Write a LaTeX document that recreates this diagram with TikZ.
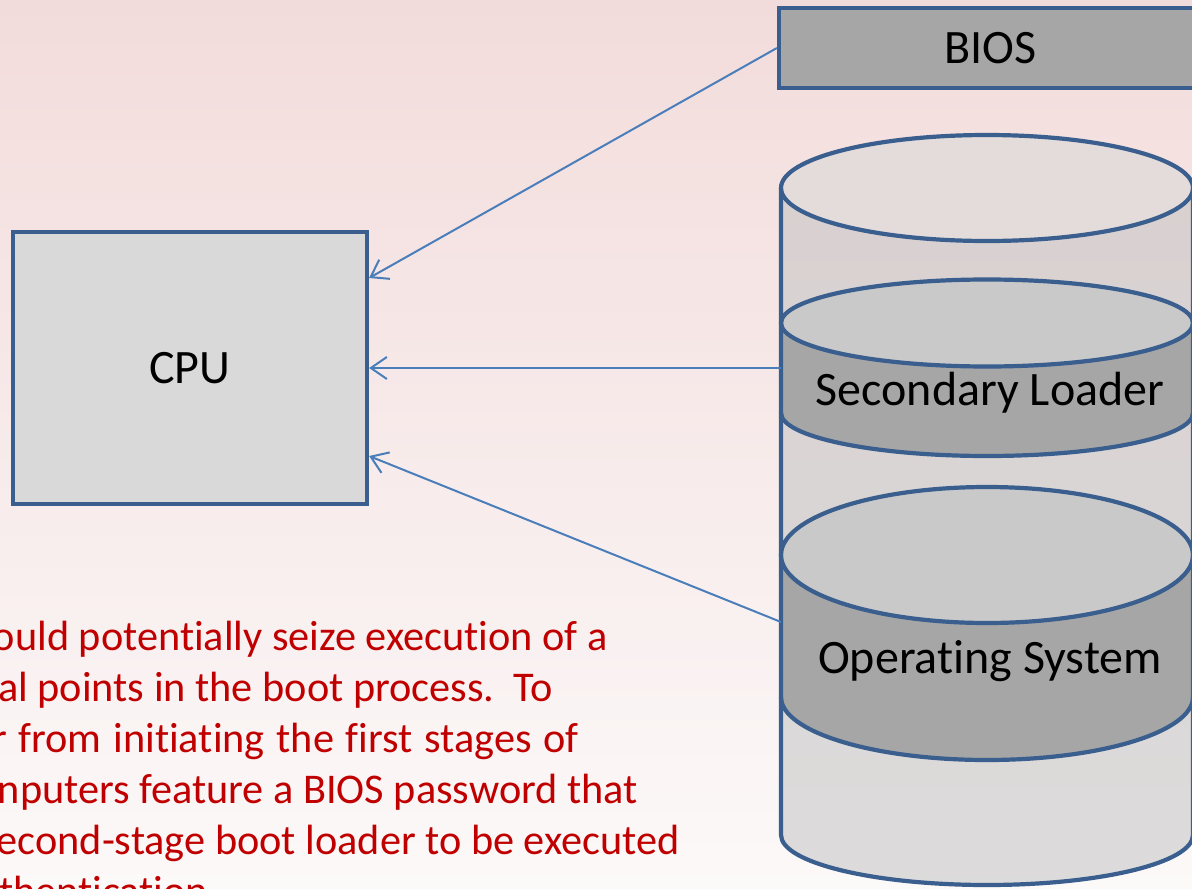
\documentclass[tikz,border=0pt]{standalone}
\usepackage{fontspec}
\setmainfont{Carlito}[Ligatures=NoCommon]
\usetikzlibrary{arrows.meta}
\definecolor{bgtop}{HTML}{F2DCDB}
\definecolor{bgmid}{HTML}{F4E4E4}
\definecolor{bgbot}{HTML}{FCF9F9}
\definecolor{edgeblue}{HTML}{3A5F8E}
\definecolor{boxfill}{HTML}{D9D9D9}
\definecolor{darkfill}{HTML}{A6A6A6}
\definecolor{bandtop}{HTML}{C9C9C9}
\definecolor{cyltop}{HTML}{E4DBDB}
\definecolor{cylbody}{HTML}{C3C3C3}
\definecolor{arrowblue}{HTML}{4A7EBB}
\definecolor{notered}{HTML}{C00000}
\begin{document}
\begin{tikzpicture}[x=1pt,y=-1pt,
  label/.style={font=\fontsize{48}{57}\selectfont, text=black, inner sep=0pt},
  boxnode/.style={draw=edgeblue, line width=4.2pt, fill=boxfill, label},
  outline/.style={draw=edgeblue, line width=4.2pt},
  conn/.style={draw=arrowblue, line width=2pt, -{Straight Barb[length=16pt,width=22pt]}},
  note/.style={font=\fontsize{42.3}{51}\selectfont, text=notered, inner sep=0pt}]
\clip (0,0) rectangle (1192,889);
\shade[top color=bgtop, middle color=bgmid, bottom color=bgbot] (0,0) rectangle (1192,889);

% CPU box
\node[boxnode, minimum width=354pt, minimum height=272pt] (cpu) at (190,368) {CPU};

% BIOS box
\node[boxnode, fill=darkfill, minimum width=423pt, minimum height=80pt] (bios) at (990.5,48) {BIOS};

% Cylinder body
\fill[cylbody, opacity=0.55] (781,188) -- (781,835) arc[start angle=180, end angle=360, x radius=206pt, y radius=50pt] -- (1193,188) -- cycle;
\fill[cyltop] (987,188) ellipse[x radius=206, y radius=53];

% Secondary loader band
\fill[darkfill] (781,323) -- (781,413) arc[start angle=180, end angle=360, x radius=206pt, y radius=43pt] -- (1193,323) -- cycle;
\draw[outline] (781,413) arc[start angle=180, end angle=360, x radius=206pt, y radius=43pt];
\filldraw[outline, fill=bandtop] (987,323) ellipse[x radius=206, y radius=43.5];

% Operating system band
\fill[darkfill] (781,555) -- (781,697) arc[start angle=180, end angle=360, x radius=206pt, y radius=63pt] -- (1193,555) -- cycle;
\draw[outline] (781,697) arc[start angle=180, end angle=360, x radius=206pt, y radius=63pt];
\filldraw[outline, fill=bandtop] (987,555) ellipse[x radius=206, y radius=68];

% Cylinder outline
\draw[outline] (781,188) -- (781,835) arc[start angle=180, end angle=360, x radius=206pt, y radius=50pt] -- (1193,188);
\draw[outline] (987,188) ellipse[x radius=206, y radius=53];

\node[label, anchor=base] (sltext) at (990,405) {Secondary Loader};
\node[label, anchor=base] (ostext) at (990,673) {Operating System};

\coordinate (slport) at (781,368);
\coordinate (osport) at (781,622);

% Connectors
\draw[conn] (bios.west) -- ([yshift=90pt]cpu.east);
\draw[conn] (slport) -- (cpu.east);
\draw[conn] (osport) -- ([yshift=-88pt]cpu.east);

% Note text
\node[note, anchor=base east] (n1) at (608,650) {ould potentially seize execution of a};
\node[note, anchor=base east] (n2) at (553,701) {al points in the boot process.\ \ To};
\node[note, anchor=base east] (n3) at (579,752) {\spaceskip=11.8pt r from initiating the first stages of};
\node[note, anchor=base east] (n4) at (638,803) {nputers feature a BIOS password that};
\node[note, anchor=base east] (n5) at (680,854) {econd-stage boot loader to be executed};
\node[note, anchor=base west] (n6) at (-1,905) {thentication};
\end{tikzpicture}
\end{document}
